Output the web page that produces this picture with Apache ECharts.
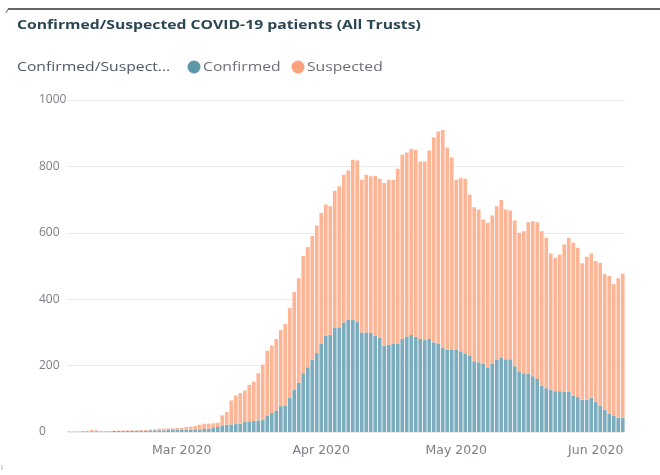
<!DOCTYPE html>
<html>
<head>
<meta charset="utf-8">
<title>Confirmed/Suspected COVID-19 patients (All Trusts)</title>
<script src="https://cdn.jsdelivr.net/npm/echarts@6/dist/echarts.min.js"></script>
<style>
  html, body { margin: 0; padding: 0; background: #ffffff; }
  #chart { width: 660px; height: 475px; }
</style>
</head>
<body>
<div id="chart"></div>
<script>
// Daily dates, 5 Feb 2020 to 7 Jun 2020
const startDate = '2020-02-05';
const dayCount = 124;

// Patients with a confirmed COVID-19 result, per day
const confirmed = [
  1, 1, 1, 2, 2,
  2, 2, 2, 2, 2, 3, 3, 3, 3, 3, 4, 4, 4,
  5, 5, 5, 5, 6, 6, 6, 6, 7, 7, 8, 8, 9, 10, 12,
  15, 20, 22, 23, 24, 25, 30, 32, 33, 35, 36, 50, 57, 65,
  78, 80, 103, 127, 148, 177, 195, 217, 238, 265, 290, 292, 315, 315, 330, 339,
  339, 333, 300, 300, 298, 290, 283, 260, 263, 267, 267, 280, 288, 292, 287, 280,
  277, 280, 270, 265, 255, 248, 247, 247, 243, 235, 230, 213, 210, 205, 193, 205,
  217, 223, 219, 219, 198, 183, 177, 175, 168, 160, 140, 132, 127, 123, 123, 122,
  122, 110, 105, 97, 97, 103, 90, 80, 67, 55, 48, 43, 43
];

// Patients suspected of COVID-19, per day
const suspected = [
  1, 1, 1, 1, 1,
  4, 3, 1, 1, 1, 1, 1, 1, 2, 2, 1, 2, 2,
  2, 3, 5, 5, 5, 5, 6, 6, 8, 9, 10, 14, 16, 15, 14,
  13, 30, 38, 72, 86, 92, 95, 110, 119, 142, 167, 195, 203, 215,
  229, 245, 270, 295, 315, 353, 362, 373, 384, 395, 395, 388, 412, 425, 445, 449,
  481, 485, 460, 475, 472, 482, 480, 490, 497, 493, 526, 555, 554, 561, 563, 535,
  538, 568, 617, 640, 655, 609, 580, 513, 522, 528, 485, 464, 460, 435, 437, 447,
  463, 476, 451, 448, 439, 417, 428, 457, 467, 472, 465, 453, 411, 402, 412, 443,
  463, 460, 450, 411, 431, 435, 425, 430, 408, 415, 397, 420, 434
];

// Value axis ticks
const yTicks = [0, 200, 400, 600, 800, 1000];

const seriesNames = ['Confirmed', 'Suspected'];
const seriesColors = ['#5f97aa', '#fca27c'];
const barColors = ['#7badbf', '#fdb596'];

const monthNames = ['Jan', 'Feb', 'Mar', 'Apr', 'May', 'Jun', 'Jul', 'Aug', 'Sep', 'Oct', 'Nov', 'Dec'];

// Day categories as ISO date strings
const days = [];
{
  const d0 = new Date(startDate + 'T00:00:00Z');
  for (let i = 0; i < dayCount; i++) {
    const d = new Date(d0.getTime() + i * 86400000);
    days.push(d.toISOString().slice(0, 10));
  }
}

const isMonthStart = (s) => s.slice(8, 10) === '01';
const monthLabel = (s) => monthNames[parseInt(s.slice(5, 7), 10) - 1] + ' ' + s.slice(0, 4);

const chart = echarts.init(document.getElementById('chart'), null, { renderer: 'canvas' });

const font = '"Open Sans", "Noto Sans", sans-serif';
const stretch = 1.31; // header text is drawn slightly widened

// Header text drawn as scaled text elements anchored at their left edge
function headerText(txt, x, y, opts) {
  return {
    type: 'text',
    x: x,
    y: y,
    scaleX: stretch,
    silent: true,
    style: Object.assign({
      text: txt,
      x: 0,
      y: 0,
      fontFamily: font,
      fontSize: 12,
      align: 'left',
      verticalAlign: 'middle',
      textAlign: 'left',
      textVerticalAlign: 'middle'
    }, opts)
  };
}

// Legend swatches and labels
const legendItems = [];
const legendX = [194, 298];
seriesNames.forEach((name, k) => {
  legendItems.push({
    type: 'circle',
    silent: true,
    shape: { cx: legendX[k], cy: 67, r: 6.5 },
    style: { fill: seriesColors[k] }
  });
  legendItems.push(headerText(name, legendX[k] + 9, 68, { fill: '#6b6e78' }));
});

chart.setOption({
  animation: false,
  backgroundColor: '#ffffff',
  graphic: [
    // frame edge along the top
    {
      type: 'line',
      silent: true,
      shape: { x1: 8, y1: 9, x2: 660, y2: 9 },
      style: { stroke: '#666666', lineWidth: 2 }
    },
    {
      type: 'line',
      silent: true,
      shape: { x1: 8, y1: 9, x2: 6, y2: 13 },
      style: { stroke: '#999999', lineWidth: 1.5 }
    },
    {
      type: 'line',
      silent: true,
      shape: { x1: 2, y1: 465, x2: 2, y2: 470 },
      style: { stroke: '#bbbbbb', lineWidth: 1 }
    },
    headerText('Confirmed/Suspected COVID-19 patients (All Trusts)', 17, 26, {
      fontWeight: 'bold',
      fill: '#2c4652'
    }),
    headerText('Confirmed/Suspect...', 17, 68, { fill: '#4c5866' })
  ].concat(legendItems),
  grid: {
    left: 67,
    right: 35,
    top: 100,
    bottom: 43,
    containLabel: false
  },
  xAxis: {
    type: 'category',
    data: days,
    boundaryGap: true,
    axisLine: { show: false },
    axisTick: { show: false },
    axisLabel: {
      interval: (idx, val) => isMonthStart(val),
      formatter: (val) => monthLabel(val),
      fontFamily: '"DejaVu Sans", sans-serif',
      fontSize: 12.5,
      color: '#7c7f86',
      margin: 12
    },
    splitLine: { show: false }
  },
  yAxis: {
    type: 'value',
    min: yTicks[0],
    max: yTicks[yTicks.length - 1],
    interval: yTicks[1] - yTicks[0],
    axisLine: { show: false },
    axisTick: { show: false },
    axisLabel: {
      formatter: (v) => String(v),
      fontFamily: font,
      fontSize: 12,
      color: '#7c7f86',
      align: 'left',
      margin: 28
    },
    splitLine: { lineStyle: { color: '#ebebeb', width: 1 } }
  },
  series: seriesNames.map((name, k) => ({
    name: name,
    type: 'bar',
    stack: 'patients',
    data: k === 0 ? confirmed : suspected,
    barCategoryGap: '18%',
    itemStyle: { color: barColors[k] }
  }))
});
</script>
</body>
</html>
